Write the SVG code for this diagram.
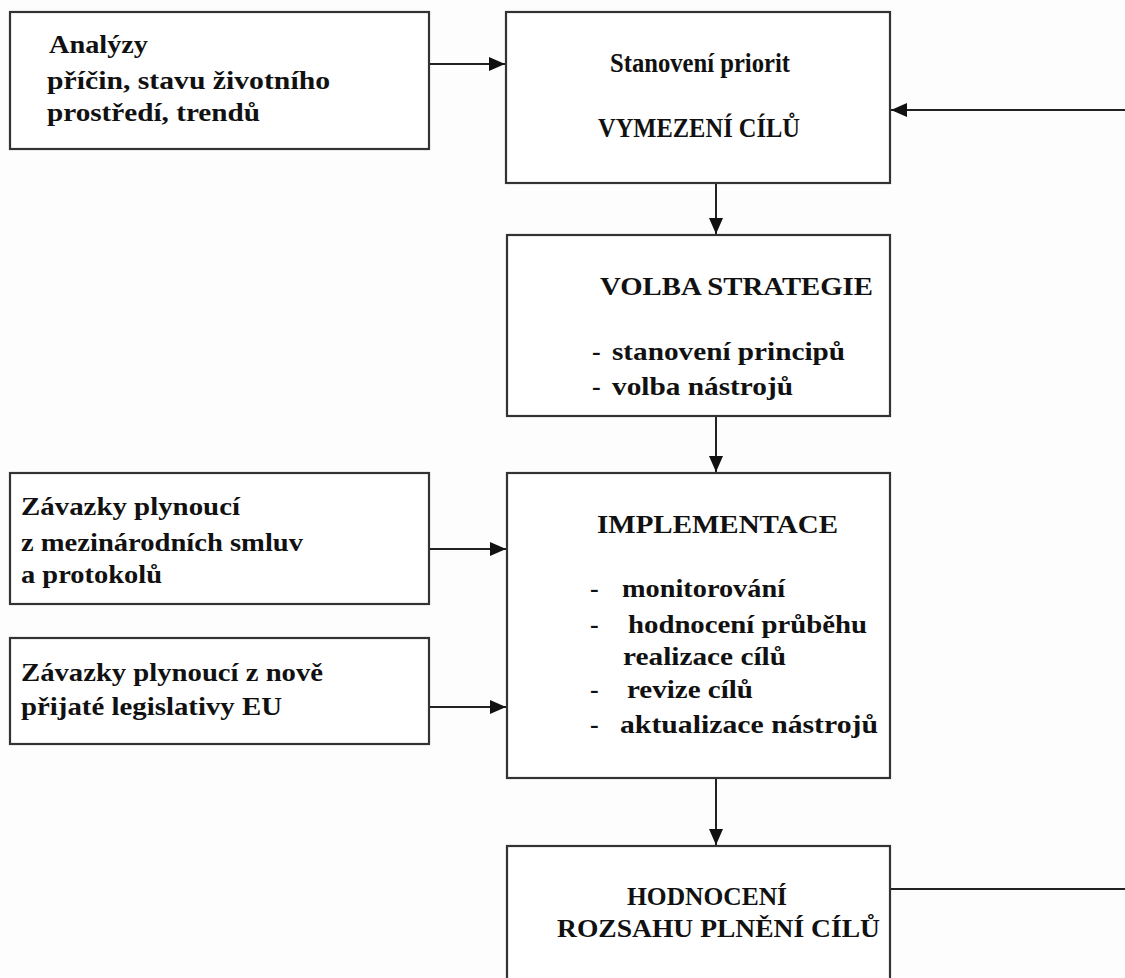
<svg xmlns="http://www.w3.org/2000/svg" width="1125" height="978" viewBox="0 0 1125 978">
<style>
.box{fill:#fff;stroke:#333;stroke-width:2.2}
.t{font-family:"Liberation Serif","Times New Roman",serif;font-weight:bold;font-size:26px;fill:#111}
.big{font-size:28px}
.c{stroke:#222;stroke-width:2;fill:none}
</style>
<defs>
<marker id="ah" markerUnits="userSpaceOnUse" markerWidth="16" markerHeight="14" refX="16" refY="7" orient="auto">
<path d="M0,0 L16,7 L0,14 z" fill="#111"/>
</marker>
</defs>
<rect width="1125" height="978" fill="#fdfdfd"/>
<g id="connectors">
<line class="c" x1="429" y1="64" x2="505" y2="64" marker-end="url(#ah)"/>
<line class="c" x1="1125" y1="110" x2="891" y2="110" marker-end="url(#ah)"/>
<line class="c" x1="716" y1="183" x2="716" y2="234" marker-end="url(#ah)"/>
<line class="c" x1="716" y1="416" x2="716" y2="472" marker-end="url(#ah)"/>
<line class="c" x1="429" y1="549" x2="506" y2="549" marker-end="url(#ah)"/>
<line class="c" x1="429" y1="707" x2="506" y2="707" marker-end="url(#ah)"/>
<line class="c" x1="716" y1="778" x2="716" y2="845" marker-end="url(#ah)"/>
<line class="c" x1="890" y1="889" x2="1125" y2="889"/>
</g>
<g id="analyzy">
<rect class="box" x="10" y="12" width="419" height="137"/>
<text class="t" x="49" y="53" textLength="99" lengthAdjust="spacingAndGlyphs">Analýzy</text>
<text class="t" x="47" y="89" textLength="283" lengthAdjust="spacingAndGlyphs">příčin, stavu životního</text>
<text class="t" x="47" y="121" textLength="213" lengthAdjust="spacingAndGlyphs">prostředí, trendů</text>
</g>
<g id="vymezeni">
<rect class="box" x="506" y="12" width="384" height="171"/>
<text class="t big" x="610" y="72" textLength="180" lengthAdjust="spacingAndGlyphs">Stanovení priorit</text>
<text class="t big" x="598" y="137" textLength="202" lengthAdjust="spacingAndGlyphs">VYMEZENÍ CÍLŮ</text>
</g>
<g id="volba">
<rect class="box" x="507" y="235" width="383" height="181"/>
<text class="t" x="600" y="295" textLength="273" lengthAdjust="spacingAndGlyphs">VOLBA STRATEGIE</text>
<text class="t" y="360"><tspan x="592">-</tspan><tspan x="612" textLength="233" lengthAdjust="spacingAndGlyphs">stanovení principů</tspan></text>
<text class="t" y="395"><tspan x="592">-</tspan><tspan x="612" textLength="181" lengthAdjust="spacingAndGlyphs">volba nástrojů</tspan></text>
</g>
<g id="implementace">
<rect class="box" x="507" y="473" width="383" height="305"/>
<text class="t" x="597" y="533" textLength="241" lengthAdjust="spacingAndGlyphs">IMPLEMENTACE</text>
<text class="t" y="597"><tspan x="590">-</tspan><tspan x="622" textLength="163" lengthAdjust="spacingAndGlyphs">monitorování</tspan></text>
<text class="t" y="633"><tspan x="590">-</tspan><tspan x="628" textLength="239" lengthAdjust="spacingAndGlyphs">hodnocení průběhu</tspan></text>
<text class="t" x="623" y="665" textLength="163" lengthAdjust="spacingAndGlyphs">realizace cílů</text>
<text class="t" y="698"><tspan x="590">-</tspan><tspan x="627" textLength="126" lengthAdjust="spacingAndGlyphs">revize cílů</tspan></text>
<text class="t" y="733"><tspan x="590">-</tspan><tspan x="620" textLength="258" lengthAdjust="spacingAndGlyphs">aktualizace nástrojů</tspan></text>
</g>
<g id="zavazky-smluvy">
<rect class="box" x="10" y="473" width="419" height="131"/>
<text class="t" x="21" y="515" textLength="219" lengthAdjust="spacingAndGlyphs">Závazky plynoucí</text>
<text class="t" x="21" y="551" textLength="282" lengthAdjust="spacingAndGlyphs">z mezinárodních smluv</text>
<text class="t" x="21" y="583" textLength="141" lengthAdjust="spacingAndGlyphs">a protokolů</text>
</g>
<g id="zavazky-eu">
<rect class="box" x="10" y="638" width="419" height="106"/>
<text class="t" x="21" y="681" textLength="302" lengthAdjust="spacingAndGlyphs">Závazky plynoucí z nově</text>
<text class="t" x="21" y="715" textLength="261" lengthAdjust="spacingAndGlyphs">přijaté legislativy EU</text>
</g>
<g id="hodnoceni">
<rect class="box" x="507" y="846" width="383" height="200"/>
<text class="t" x="627" y="905" textLength="160" lengthAdjust="spacingAndGlyphs">HODNOCENÍ</text>
<text class="t" x="557" y="937" textLength="323" lengthAdjust="spacingAndGlyphs">ROZSAHU PLNĚNÍ CÍLŮ</text>
</g>
</svg>
